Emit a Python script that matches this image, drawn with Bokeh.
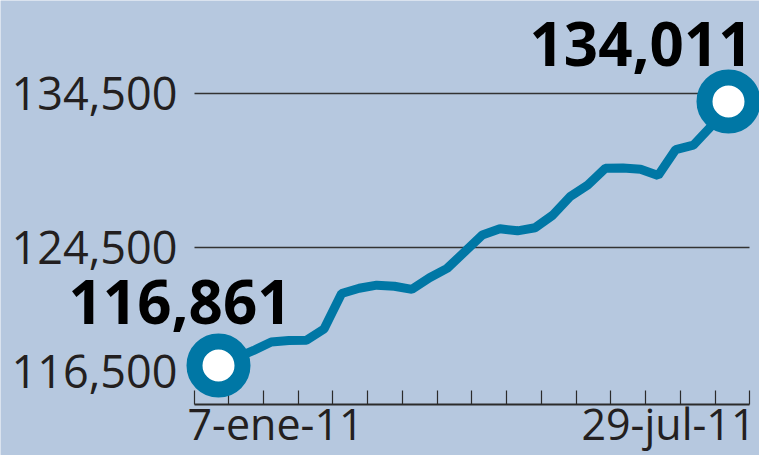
import pandas as pd
import numpy as np
from bokeh.plotting import figure
from bokeh.models import Range1d, FixedTicker, NumeralTickFormatter, CustomJSTickFormatter, Label
from bokeh.embed import file_html
from bokeh.resources import INLINE

# ---- data (weekly values) ----
dates = pd.date_range("2011-01-07", "2011-07-29", freq="7D")
values = [116861, 117350, 117840, 118390, 118490, 118500, 119230, 121540,
          121880, 122080, 122010, 121810, 122560, 123170, 124250, 125340,
          125740, 125610, 125810, 126620, 127840, 128590, 129670, 129690,
          129610, 129200, 130890, 131170, 132390, 134011]
y_ticks = [116500, 124500, 134500]
grid_values = [124500, 134500]
x_labels = ["7-ene-11", "29-jul-11"]
end_labels = ["116,861", "134,011"]

# ---- style / layout ----
BG = "#b6c8df"
TEAL = "#0077a5"
INK = "#231f20"
W, H = 759, 455
DAY = 86400000.0
X0_PX, X1_PX = 218.0, 728.0            # screen x of first / last week
PPD = (X1_PX - X0_PX) / 203.0          # pixels per day
Y0_PX, Y1_PX = 365.0, 101.0            # screen y of first / last value
PPU = (Y0_PX - Y1_PX) / (values[-1] - values[0])   # pixels per unit
AXIS_PX = 404.0
BASE_FIX = 0.355                       # label anchor -> visual baseline correction (em)

t0 = dates[0].value / 1e6
t1 = dates[-1].value / 1e6
def xd(px):   # screen x -> data x (ms)
    return t0 + (px - X0_PX) / PPD * DAY
def yd(py):   # screen y -> data y
    return values[0] + (Y0_PX - py) / PPU
def yoff(anchor_px, baseline_px, size):
    return anchor_px - baseline_px + BASE_FIX * size

p = figure(width=W, height=H, x_axis_type="datetime",
           x_range=Range1d(xd(0), xd(W)), y_range=Range1d(yd(H), yd(0)),
           output_backend="svg", toolbar_location=None,
           min_border_left=0, min_border_right=0, min_border_top=0, min_border_bottom=0,
           background_fill_color=BG, border_fill_color=BG, outline_line_color=None)

# grid lines (limited to the axis span)
g = p.ygrid[0]
g.ticker = FixedTicker(ticks=grid_values, minor_ticks=[])
if "cross_bounds" in g.properties():
    g.cross_bounds = (xd(193.5), xd(749.3))
    g.grid_line_color = "#333333"
    g.grid_line_width = 1.3
else:
    g.visible = False
    p.segment(x0=[xd(193.5)] * len(grid_values), x1=[xd(749.3)] * len(grid_values),
              y0=grid_values, y1=grid_values, line_color="#333333", line_width=1.3)
p.xgrid.visible = False

p.line(dates, values, line_width=9, line_color=TEAL)
p.scatter([dates[0], dates[-1]], [values[0], values[-1]], size=48,
          line_width=16, line_color=TEAL, fill_color="white")

# x axis: inward tick marks only, drawn at a fixed location inside the canvas
xa = p.xaxis[0]
xa.level = "underlay"
xa.fixed_location = yd(AXIS_PX)
xa.bounds = (xd(193.5), xd(749.3))
xa.ticker = FixedTicker(ticks=list(np.linspace(xd(193.5), xd(749.3), 17)), minor_ticks=[])
xa.formatter = CustomJSTickFormatter(code="return ''")
xa.axis_line_color = "#2b2b2b"
xa.axis_line_width = 2
xa.major_tick_in = 14
xa.major_tick_out = 0
xa.major_tick_line_color = "#2b2b2b"
xa.major_tick_line_width = 1.2
xa.minor_tick_line_color = None

# y axis: labels only
ya = p.yaxis[0]
ya.fixed_location = xd(184)
ya.ticker = FixedTicker(ticks=y_ticks, minor_ticks=[])
ya.formatter = NumeralTickFormatter(format="0,0")
ya.axis_line_color = None
ya.major_tick_line_color = None
ya.minor_tick_line_color = None
ya.major_tick_in = 0
ya.major_tick_out = 0
ya.major_label_standoff = 7
ya.major_label_text_font = "Open Sans"
ya.major_label_text_font_size = "45px"
ya.major_label_text_color = INK

# date labels under the axis
DS = 43
p.add_layout(Label(x=t0, y=yd(AXIS_PX), text=x_labels[0], text_align="left", text_baseline="alphabetic",
                   x_offset=187 - X0_PX, y_offset=yoff(AXIS_PX, 438, DS), text_font="Open Sans",
                   text_font_size="%dpx" % DS, text_color=INK))
p.add_layout(Label(x=t1, y=yd(AXIS_PX), text=x_labels[1], text_align="right", text_baseline="alphabetic",
                   x_offset=755 - X1_PX, y_offset=yoff(AXIS_PX, 438, DS), text_font="Open Sans",
                   text_font_size="%dpx" % DS, text_color=INK))

# first / last value labels
BS = 60
p.add_layout(Label(x=t0, y=values[0], text=end_labels[0], text_align="right", text_baseline="alphabetic",
                   x_offset=291 - X0_PX, y_offset=yoff(Y0_PX, 323, BS), text_font="Open Sans",
                   text_font_size="%dpx" % BS, text_font_style="bold", text_color="black"))
p.add_layout(Label(x=t1, y=values[-1], text=end_labels[1], text_align="right", text_baseline="alphabetic",
                   x_offset=752 - X1_PX, y_offset=yoff(Y1_PX, 65, BS), text_font="Open Sans",
                   text_font_size="%dpx" % BS, text_font_style="bold", text_color="black"))

html = file_html(p, INLINE, title="Empleo")
html = html.replace("<body>", '<body style="background-color:%s;">' % BG, 1)
open("out.html", "w").write(html)
